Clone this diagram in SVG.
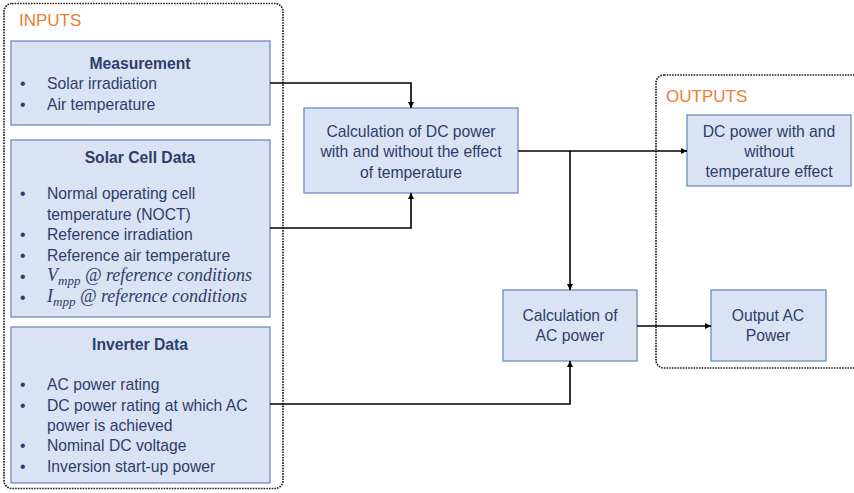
<svg xmlns="http://www.w3.org/2000/svg" width="854" height="493" viewBox="0 0 854 493">
<defs>
<marker id="ah" viewBox="0 0 10 10" refX="10" refY="5" markerWidth="6" markerHeight="6" markerUnits="userSpaceOnUse" orient="auto"><path d="M0,0 L10,5 L0,10 z" fill="#000"/></marker>
<style>
.box{fill:#dae3f3;stroke:#6f8cc0;stroke-width:1.3}
.cont{fill:none;stroke:#222;stroke-width:1.7;stroke-dasharray:1.6 1.1}
.t{font-family:"Liberation Sans",Arial,sans-serif;font-size:15.7px;fill:#2e3d6b}
.h{font-weight:bold}
.c{text-anchor:middle}
.lbl{font-family:"Liberation Sans",Arial,sans-serif;font-size:17px;fill:#ed7d31}
.m{font-family:"Liberation Serif","Times New Roman",serif;font-style:italic;font-size:18px;fill:#2e3d6b}
.con{fill:none;stroke:#000;stroke-width:1.6}
</style>
</defs>
<rect width="854" height="493" fill="#fff"/>
<g id="inputs">
<rect class="cont" x="4" y="3.5" width="279" height="485" rx="8"/>
<text class="lbl" x="19" y="26">INPUTS</text>
</g>
<g id="outputs">
<rect class="cont" x="656" y="75" width="210" height="293" rx="8"/>
<text class="lbl" x="666" y="102">OUTPUTS</text>
</g>
<g id="measurement">
<rect class="box" x="11" y="41" width="259" height="84"/>
<text class="t h c" x="140" y="69">Measurement</text>
<text class="t" x="20" y="89">•</text><text class="t" x="47" y="89">Solar irradiation</text>
<text class="t" x="20" y="110">•</text><text class="t" x="47" y="110">Air temperature</text>
</g>
<g id="solarcell">
<rect class="box" x="11" y="140" width="259" height="177"/>
<text class="t h c" x="140" y="163">Solar Cell Data</text>
<text class="t" x="20" y="199">•</text><text class="t" x="47" y="199">Normal operating cell</text>
<text class="t" x="47" y="220">temperature (NOCT)</text>
<text class="t" x="20" y="240">•</text><text class="t" x="47" y="240">Reference irradiation</text>
<text class="t" x="20" y="261">•</text><text class="t" x="47" y="261">Reference air temperature</text>
<text class="t" x="20" y="282">•</text><text class="m" x="47" y="281">V<tspan font-size="13" dy="4">mpp</tspan><tspan dy="-4"> @ reference conditions</tspan></text>
<text class="t" x="20" y="303">•</text><text class="m" x="47" y="302">I<tspan font-size="13" dy="4">mpp</tspan><tspan dy="-4"> @ reference conditions</tspan></text>
</g>
<g id="inverter">
<rect class="box" x="11" y="327" width="259" height="156"/>
<text class="t h c" x="140" y="350">Inverter Data</text>
<text class="t" x="20" y="390">•</text><text class="t" x="47" y="390">AC power rating</text>
<text class="t" x="20" y="411">•</text><text class="t" x="47" y="411">DC power rating at which AC</text>
<text class="t" x="47" y="431">power is achieved</text>
<text class="t" x="20" y="451">•</text><text class="t" x="47" y="451">Nominal DC voltage</text>
<text class="t" x="20" y="472">•</text><text class="t" x="47" y="472">Inversion start-up power</text>
</g>
<g id="dccalc">
<rect class="box" x="304" y="108" width="214" height="85"/>
<text class="t c" x="411" y="137">Calculation of DC power</text>
<text class="t c" x="411" y="157">with and without the effect</text>
<text class="t c" x="411" y="178">of temperature</text>
</g>
<g id="accalc">
<rect class="box" x="503" y="290" width="134" height="71"/>
<text class="t c" x="570" y="321">Calculation of</text>
<text class="t c" x="570" y="341">AC power</text>
</g>
<g id="dcout">
<rect class="box" x="687" y="115" width="164" height="71"/>
<text class="t c" x="769" y="137">DC power with and</text>
<text class="t c" x="769" y="157">without</text>
<text class="t c" x="769" y="177">temperature effect</text>
</g>
<g id="acout">
<rect class="box" x="711" y="290" width="115" height="71"/>
<text class="t c" x="768" y="321">Output AC</text>
<text class="t c" x="768" y="341">Power</text>
</g>
<g id="connectors">
<path class="con" d="M270,83 H411 V108" marker-end="url(#ah)"/>
<path class="con" d="M270,228 H411 V193" marker-end="url(#ah)"/>
<path class="con" d="M518,151 H687" marker-end="url(#ah)"/>
<path class="con" d="M570,151 V290" marker-end="url(#ah)"/>
<path class="con" d="M270,404 H570 V361" marker-end="url(#ah)"/>
<path class="con" d="M637,326 H711" marker-end="url(#ah)"/>
</g>
</svg>
